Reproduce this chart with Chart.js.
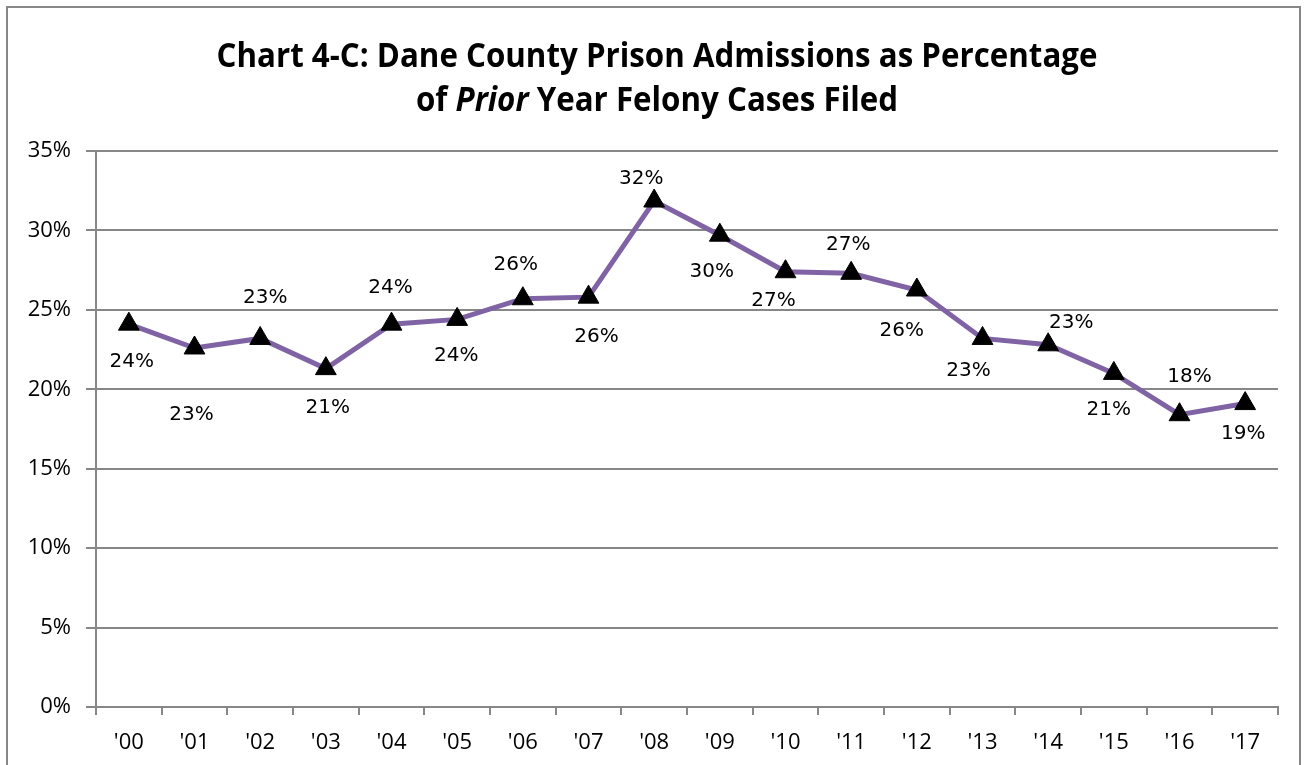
<!DOCTYPE html>
<html>
<head>
<meta charset="utf-8">
<script src="https://cdn.jsdelivr.net/npm/chart.js@4.4.1/dist/chart.umd.min.js"></script>
<style>
  html, body { margin: 0; padding: 0; background: #fff; }
  #wrap { width: 1307px; height: 765px; position: relative; }
</style>
</head>
<body>
<div id="wrap"><canvas id="prisonChart"></canvas></div>
<script>
// Chart data
const years = ["'00", "'01", "'02", "'03", "'04", "'05", "'06", "'07", "'08",
  "'09", "'10", "'11", "'12", "'13", "'14", "'15", "'16", "'17"];
const admissionPct = [24.1, 22.6, 23.2, 21.3, 24.1, 24.4, 25.7, 25.8, 31.85,
  29.7, 27.4, 27.3, 26.25, 23.2, 22.8, 21.0, 18.4, 19.1];
const yTicks = [0, 5, 10, 15, 20, 25, 30, 35];

// where each value label sits relative to its marker (px)
const labelDx = [3, -3, 5, 2, -1, -1, -7, 8, -13, -8, -12, -3, -15, -14, 23, -5, 10, -2];
const labelDy = [38, 67, -41, 39, -36, 36, -34, 40, -22, 37, 29, -29, 41, 32, -22, 36, -38, 30];

const gridColor = "#878787";

// title with the italic word, plus the outer frame
const frameAndTitle = {
  id: "frameAndTitle",
  afterDraw(chart) {
    const c = chart.ctx;
    c.save();
    c.strokeStyle = gridColor;
    c.lineWidth = 2;
    c.strokeRect(7, 7, 1293, 770);

    c.fillStyle = "#000";
    c.textBaseline = "middle";
    c.textAlign = "center";
    const bold = "bold 34px 'Open Sans', sans-serif";
    const squeeze = 0.92;
    c.font = bold;
    c.save();
    c.translate(657, 57);
    c.scale(squeeze, 1);
    c.fillText("Chart 4-C: Dane County Prison Admissions as Percentage", 0, 0);
    c.restore();

    // second line: "of Prior Year Felony Cases Filed" with Prior in italics
    const parts = [["of ", bold], ["Prior", "italic bold 34px 'Open Sans', sans-serif"], [" Year Felony Cases Filed", bold]];
    let total = 0;
    parts.forEach(p => { c.font = p[1]; total += c.measureText(p[0]).width; });
    c.save();
    c.translate(657, 101);
    c.scale(squeeze, 1);
    c.textAlign = "left";
    let x = -total / 2;
    parts.forEach(p => { c.font = p[1]; c.fillText(p[0], x, 0); x += c.measureText(p[0]).width; });
    c.restore();
    c.restore();
  }
};

// value labels next to the markers
const valueLabels = {
  id: "valueLabels",
  afterDatasetsDraw(chart) {
    const c = chart.ctx;
    const meta = chart.getDatasetMeta(0);
    c.save();
    c.font = "20px 'DejaVu Sans', sans-serif";
    c.fillStyle = "#000";
    c.textAlign = "center";
    c.textBaseline = "middle";
    meta.data.forEach((pt, i) => {
      c.fillText(Math.round(admissionPct[i]) + "%", pt.x + labelDx[i], pt.y + labelDy[i]);
    });
    c.restore();
  }
};

const ctx = document.getElementById("prisonChart").getContext("2d");
new Chart(ctx, {
  type: "line",
  data: {
    labels: years,
    datasets: [{
      data: admissionPct,
      borderColor: "#7f63a5",
      borderWidth: 5,
      pointStyle: "triangle",
      pointRadius: 12,
      pointHoverRadius: 12,
      pointBackgroundColor: "#000",
      pointBorderColor: "#000",
      pointBorderWidth: 1,
      tension: 0,
    }],
  },
  options: {
    responsive: true,
    maintainAspectRatio: false,
    animation: false,
    layout: { padding: { top: 151, right: 29, left: 0, bottom: 0 } },
    plugins: {
      legend: { display: false },
      title: { display: false },
      tooltip: { enabled: false },
    },
    scales: {
      x: {
        offset: true,
        grid: {
          offset: true,
          drawOnChartArea: false,
          color: gridColor,
          lineWidth: 2,
          tickLength: 8,
        },
        border: { color: gridColor, width: 2 },
        ticks: {
          color: "#000",
          font: { family: "'Open Sans', sans-serif", size: 22 },
          padding: 15,
          maxRotation: 0,
        },
        afterFit(scale) { scale.height = 58; },
      },
      y: {
        min: 0,
        max: 35,
        afterBuildTicks(scale) { scale.ticks = yTicks.map(v => ({ value: v })); },
        grid: { color: gridColor, lineWidth: 2, tickLength: 10 },
        border: { color: gridColor, width: 2 },
        ticks: {
          color: "#000",
          font: { family: "'Open Sans', sans-serif", size: 22 },
          padding: 15,
          callback: v => v + "%",
        },
        afterFit(scale) { scale.width = 96; },
      },
    },
  },
  plugins: [frameAndTitle, valueLabels],
});
</script>
</body>
</html>
